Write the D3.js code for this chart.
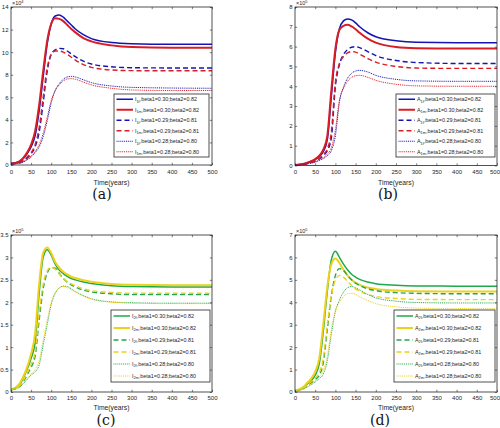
<!DOCTYPE html>
<html><head><meta charset="utf-8">
<script src="https://cdn.jsdelivr.net/npm/d3@7"></script>
<style>body{margin:0;background:#fff}svg{display:block}</style>
</head><body>
<svg id="c" width="500" height="428"></svg>
<script>
// ---- data ----
const years = [0,20,30,40,50,60,70,80,90,100,110,120,130,140,150,160,180,200,250,300,400,500];
const xTicks = [0,50,100,150,200,250,300,350,400,450,500];

// panel (a): I1 (x10^4)
const aYTicks = [0,2,4,6,8,10,12,14];
const aI1f_030 = [0.15,0.3,0.55,1.0,1.6,2.6,4.8,7.8,10.7,12.5,13.2,13.3,13.1,12.75,12.4,12.05,11.55,11.2,10.85,10.75,10.7,10.7];
const aI1m_030 = [0.1,0.3,0.6,1.1,1.8,3.0,5.3,8.3,11.0,12.5,13.0,12.95,12.75,12.4,12.05,11.75,11.25,10.95,10.6,10.45,10.4,10.4];
const aI1f_029 = [0.1,0.2,0.35,0.6,1.0,1.6,2.9,5.5,8.3,9.8,10.2,10.33,10.3,10.1,9.85,9.6,9.2,8.95,8.7,8.62,8.6,8.6];
const aI1m_029 = [0.1,0.2,0.4,0.7,1.1,1.8,3.3,6.0,8.6,9.8,10.1,10.1,10.0,9.8,9.55,9.3,8.9,8.65,8.42,8.36,8.35,8.35];
const aI1f_028 = [0.1,0.15,0.25,0.45,0.7,1.1,1.6,2.5,3.9,5.5,6.6,7.2,7.6,7.8,7.85,7.8,7.55,7.3,7.0,6.88,6.82,6.8];
const aI1m_028 = [0.1,0.15,0.3,0.5,0.8,1.2,1.8,2.8,4.2,5.7,6.6,7.1,7.45,7.62,7.65,7.6,7.35,7.1,6.8,6.65,6.6,6.6];

// panel (b): A1 (x10^5)
const bYTicks = [0,1,2,3,4,5,6,7,8];
const bA1f_030 = [0.02,0.08,0.13,0.2,0.3,0.45,0.7,1.3,3.5,5.7,6.9,7.3,7.4,7.35,7.2,7.0,6.7,6.5,6.3,6.22,6.2,6.2];
const bA1m_030 = [0.02,0.08,0.14,0.22,0.33,0.5,0.8,1.5,3.8,5.9,6.85,7.05,7.1,7.02,6.88,6.7,6.4,6.2,5.98,5.92,5.9,5.9];
const bA1f_029 = [0.02,0.06,0.1,0.15,0.22,0.33,0.5,0.75,1.4,4.0,5.1,5.6,5.85,5.97,6.0,5.95,5.75,5.55,5.3,5.2,5.15,5.15];
const bA1m_029 = [0.02,0.06,0.1,0.16,0.24,0.36,0.55,0.85,1.7,4.2,5.15,5.5,5.68,5.75,5.72,5.62,5.4,5.22,5.0,4.92,4.9,4.9];
const bA1f_028 = [0.02,0.05,0.08,0.12,0.17,0.25,0.35,0.5,0.75,1.5,3.2,3.95,4.4,4.65,4.77,4.8,4.72,4.55,4.35,4.27,4.25,4.25];
const bA1m_028 = [0.02,0.05,0.09,0.13,0.19,0.28,0.4,0.58,0.9,1.8,3.3,3.9,4.25,4.45,4.53,4.55,4.45,4.3,4.1,4.02,4.0,4.0];

// panel (c): I2 (x10^5)
const cYTicks = [0,0.5,1,1.5,2,2.5,3,3.5];
const cI2f_030 = [0.05,0.15,0.3,0.5,0.75,1.1,2.2,3.0,3.17,3.05,2.85,2.72,2.64,2.58,2.53,2.5,2.45,2.42,2.37,2.35,2.34,2.34];
const cI2m_030 = [0.05,0.17,0.33,0.55,0.85,1.3,2.4,3.1,3.22,3.1,2.9,2.77,2.68,2.62,2.57,2.54,2.49,2.46,2.41,2.39,2.38,2.38];
const cI2f_029 = [0.05,0.12,0.22,0.38,0.55,0.8,1.6,2.3,2.65,2.77,2.76,2.65,2.53,2.45,2.39,2.34,2.27,2.23,2.19,2.17,2.17,2.17];
const cI2m_029 = [0.05,0.13,0.25,0.42,0.62,0.9,1.75,2.4,2.7,2.78,2.74,2.63,2.53,2.46,2.41,2.37,2.3,2.26,2.22,2.2,2.2,2.2];
const cI2f_028 = [0.05,0.1,0.18,0.28,0.38,0.45,0.6,1.05,1.5,1.95,2.2,2.32,2.36,2.35,2.3,2.24,2.15,2.08,2.01,1.99,1.98,1.98];
const cI2m_028 = [0.05,0.11,0.2,0.3,0.4,0.5,0.7,1.15,1.6,2.0,2.22,2.32,2.35,2.33,2.28,2.23,2.14,2.07,2.0,1.98,1.97,1.97];

// panel (d): A2 (x10^5)
const dYTicks = [0,1,2,3,4,5,6,7];
const dA2f_030 = [0.05,0.2,0.35,0.5,0.75,1.25,2.7,4.5,5.9,6.28,6.0,5.7,5.45,5.25,5.12,5.02,4.9,4.83,4.76,4.73,4.72,4.72];
const dA2m_030 = [0.05,0.22,0.4,0.6,0.9,1.5,3.0,4.7,5.7,5.95,5.75,5.45,5.2,5.0,4.88,4.78,4.66,4.59,4.52,4.49,4.48,4.48];
const dA2f_029 = [0.05,0.15,0.28,0.4,0.55,0.75,1.3,2.8,4.3,5.2,5.5,5.42,5.2,5.0,4.85,4.75,4.6,4.52,4.43,4.4,4.38,4.38];
const dA2m_029 = [0.05,0.17,0.32,0.46,0.62,0.85,1.5,3.0,4.3,5.0,5.2,5.12,4.93,4.75,4.6,4.5,4.35,4.26,4.17,4.13,4.12,4.12];
const dA2f_028 = [0.05,0.12,0.22,0.32,0.45,0.6,0.8,1.4,2.6,3.6,4.1,4.45,4.65,4.7,4.65,4.55,4.35,4.2,4.05,3.99,3.97,3.97];
const dA2m_028 = [0.05,0.14,0.25,0.36,0.5,0.68,0.95,1.6,2.8,3.6,4.0,4.25,4.38,4.4,4.35,4.25,4.08,3.94,3.8,3.74,3.72,3.72];

const paramLabels = [",beta1=0.30;beta2=0.82",",beta1=0.30;beta2=0.82",",beta1=0.29;beta2=0.81",",beta1=0.29;beta2=0.81",",beta1=0.28;beta2=0.80",",beta1=0.28;beta2=0.80"];

// ---- styles ----
const BLUE="#1414b4", RED="#d81e24", GREEN="#1fa84c", YELLOW="#ecd21c";
const styles = [
  {dash:null, w:1.5}, {dash:null, w:2.0},
  {dash:"5,3", w:1.4}, {dash:"5,3", w:1.4},
  {dash:"1,0.9", w:1.0}, {dash:"1,0.9", w:1.0}
];

const panels = [
  {L:11,R:212,T:7,B:165, ymax:14, yTicks:aYTicks, exp:"4", sym:"I", sub:["1f","1m"], cols:[BLUE,RED],
   series:[aI1f_030,aI1m_030,aI1f_029,aI1m_029,aI1f_028,aI1m_028],
   leg:{x0:114,x1:209,y0:94,y1:157}, cap:"(a)", capX:102, capY:199, tickY:174, labY:185, lastShift:0},
  {L:295,R:497,T:7,B:165.5, ymax:8, yTicks:bYTicks, exp:"5", sym:"A", sub:["1f","1m"], cols:[BLUE,RED],
   series:[bA1f_030,bA1m_030,bA1f_029,bA1m_029,bA1f_028,bA1m_028],
   leg:{x0:396,x1:495,y0:94,y1:157}, cap:"(b)", capX:388, capY:199, tickY:174, labY:185, lastShift:-2.5},
  {L:11,R:212,T:235,B:392, ymax:3.5, yTicks:cYTicks, exp:"5", sym:"I", sub:["2f","2m"], cols:[GREEN,YELLOW],
   series:[cI2f_030,cI2m_030,cI2f_029,cI2m_029,cI2f_028,cI2m_028],
   leg:{x0:111,x1:210,y0:310,y1:382}, cap:"(c)", capX:106, capY:425, tickY:400, labY:410, lastShift:0},
  {L:295,R:497,T:235,B:392, ymax:7, yTicks:dYTicks, exp:"5", sym:"A", sub:["2f","2m"], cols:[GREEN,YELLOW],
   series:[dA2f_030,dA2m_030,dA2f_029,dA2m_029,dA2f_028,dA2m_028],
   leg:{x0:394,x1:495,y0:310,y1:382}, cap:"(d)", capX:380, capY:425, tickY:400, labY:410, lastShift:-2.5}
];

const svg = d3.select("#c");
const FONT = "Liberation Sans, Arial, sans-serif";

panels.forEach((p, pi) => {
  const x = d3.scaleLinear().domain([0,500]).range([p.L,p.R]);
  const y = d3.scaleLinear().domain([0,p.ymax]).range([p.B,p.T]);
  const g = svg.append("g");
  const clipId = "clip"+pi;
  svg.append("clipPath").attr("id",clipId).append("rect")
    .attr("x",p.L).attr("y",p.T).attr("width",p.R-p.L).attr("height",p.B-p.T);

  const line = d3.line().x((d,i)=>x(years[i])).y(d=>y(d)).curve(d3.curveMonotoneX);
  [0,1,2,3,4,5].forEach(i => {
    const st = styles[i];
    g.append("path").datum(p.series[i])
      .attr("clip-path","url(#"+clipId+")")
      .attr("d", line).attr("fill","none")
      .attr("stroke", p.cols[i%2]).attr("stroke-width", st.w)
      .attr("stroke-dasharray", st.dash);
  });

  // axes with inward ticks on all sides
  const tl = 2.2;
  const axB = d3.axisBottom(x).tickValues(xTicks).tickSizeInner(-tl).tickSizeOuter(0).tickPadding(4);
  const axT = d3.axisTop(x).tickValues(xTicks).tickSizeInner(-tl).tickSizeOuter(0).tickFormat("");
  const axL = d3.axisLeft(y).tickValues(p.yTicks).tickSizeInner(-tl).tickSizeOuter(0).tickPadding(2.5).tickFormat(d3.format("~g"));
  const axR = d3.axisRight(y).tickValues(p.yTicks).tickSizeInner(-tl).tickSizeOuter(0).tickFormat("");
  const gb = g.append("g").attr("transform",`translate(0,${p.B})`).call(axB);
  const gt = g.append("g").attr("transform",`translate(0,${p.T})`).call(axT);
  const gl = g.append("g").attr("transform",`translate(${p.L},0)`).call(axL);
  const gr = g.append("g").attr("transform",`translate(${p.R},0)`).call(axR);
  [gb,gt,gl,gr].forEach(a=>{
    a.select(".domain").remove();
    a.selectAll("line").attr("stroke","#262626").attr("stroke-width",0.6);
    a.selectAll("text").attr("font-family",FONT).attr("font-size",6).attr("fill","#262626");
  });
  gb.selectAll("text").attr("dy",null).attr("y",p.tickY-p.B)
    .attr("x",(d)=> d===500 ? p.lastShift : 0);
  // box
  g.append("rect").attr("x",p.L).attr("y",p.T).attr("width",p.R-p.L).attr("height",p.B-p.T)
    .attr("fill","none").attr("stroke","#262626").attr("stroke-width",0.8);

  // exponent
  const ex = g.append("text").attr("x",p.L+1).attr("y",p.T-2.5)
    .attr("font-family",FONT).attr("font-size",5.5).attr("fill","#262626");
  ex.append("tspan").text("\u00d710");
  ex.append("tspan").attr("dy",-2).attr("font-size",4).text(p.exp);

  // x label
  g.append("text").attr("x",(p.L+p.R)/2).attr("y",p.labY).attr("text-anchor","middle")
    .attr("font-family",FONT).attr("font-size",6.8).attr("fill","#262626").text("Time(years)");

  // legend
  const lg = p.leg;
  g.append("rect").attr("x",lg.x0).attr("y",lg.y0).attr("width",lg.x1-lg.x0).attr("height",lg.y1-lg.y0)
    .attr("fill","#fff").attr("stroke","#262626").attr("stroke-width",0.8);
  const rowH = (lg.y1-lg.y0)/6;
  for (let i=0;i<6;i++){
    const cy = lg.y0 + rowH*(i+0.5);
    const st = styles[i];
    g.append("line").attr("x1",lg.x0+2.5).attr("x2",lg.x0+19).attr("y1",cy).attr("y2",cy)
      .attr("stroke",p.cols[i%2]).attr("stroke-width",st.w).attr("stroke-dasharray",st.dash);
    const t = g.append("text").attr("x",lg.x0+21).attr("y",cy+1.8)
      .attr("font-family",FONT).attr("font-size",5.4).attr("fill","#262626");
    t.append("tspan").text(p.sym);
    t.append("tspan").attr("dy",1.6).attr("font-size",3.8).text(p.sub[i%2]);
    t.append("tspan").attr("dy",-1.6).text(paramLabels[i]);
  }

  // caption
  g.append("text").attr("x",p.capX).attr("y",p.capY).attr("text-anchor","middle")
    .attr("font-family","DejaVu Serif, Liberation Serif, serif").attr("font-size",14).attr("fill","#111").text(p.cap);
});
</script>
</body></html>
